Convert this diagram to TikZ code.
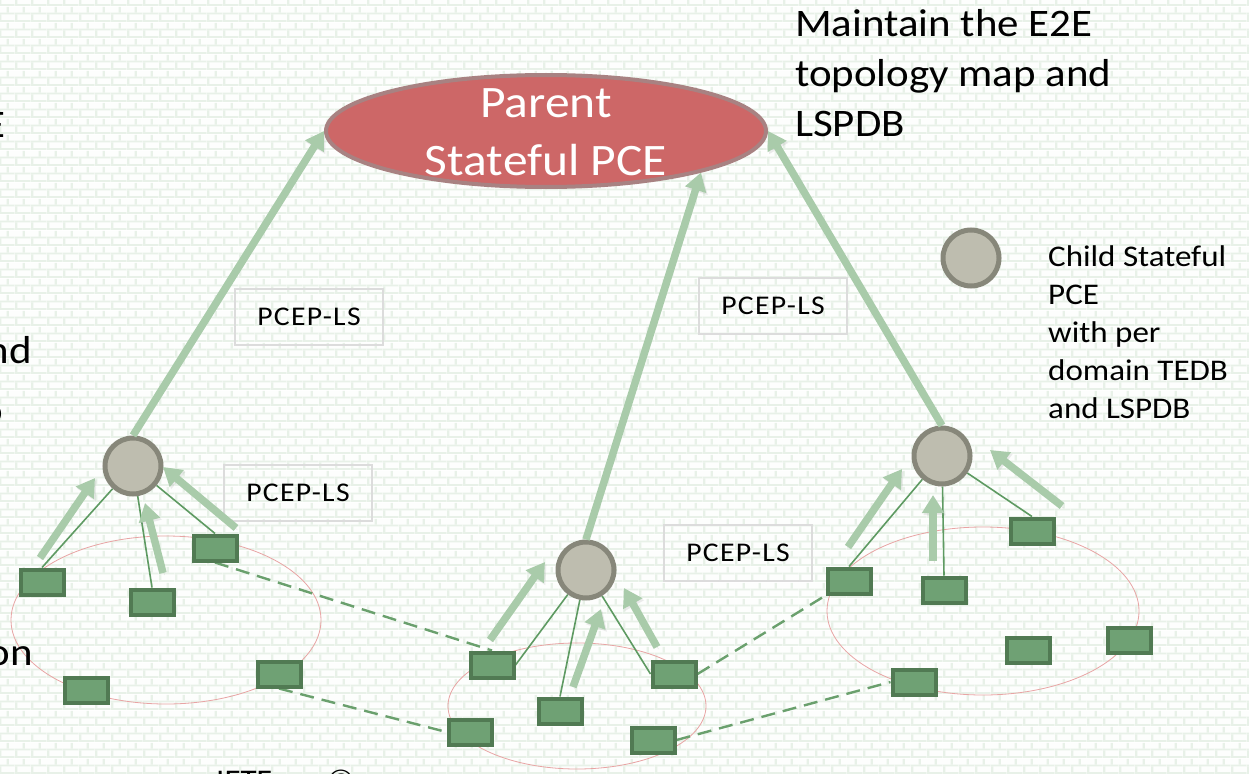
\documentclass[tikz,border=0pt]{standalone}
\usepackage{fontspec}
\setmainfont{Carlito}[FakeStretch=1.1]
\usetikzlibrary{arrows.meta,shapes.geometric,patterns.meta}
\definecolor{mortar}{HTML}{E8F1E8}
\definecolor{brick}{HTML}{FDFEFD}
\definecolor{pfill}{HTML}{CD6767}
\definecolor{pborder}{HTML}{A88282}
\definecolor{cfill}{HTML}{BEBDAF}
\definecolor{cborder}{HTML}{87877A}
\definecolor{rfill}{HTML}{6FA174}
\definecolor{rborder}{HTML}{517A53}
\definecolor{linkgreen}{HTML}{5E9A62}
\definecolor{dashgreen}{HTML}{6AA06D}
\definecolor{agreen}{HTML}{A9CBAA}
\definecolor{domainpink}{HTML}{E8A4A4}
\definecolor{boxgray}{HTML}{DCDCDC}
\tikzdeclarepattern{
  name=bgbricks,
  type=colored,
  bottom left={(0pt,0pt)},
  top right={(16pt,16pt)},
  tile size={(16pt,16pt)},
  code={
    \fill[brick] (0pt,0pt) rectangle (16pt,16pt);
    \fill[mortar] (0pt,0pt) rectangle (16pt,2pt);
    \fill[mortar] (0pt,8pt) rectangle (16pt,10pt);
    \fill[mortar] (0pt,2pt) rectangle (2.5pt,8pt);
    \fill[mortar] (8pt,10pt) rectangle (10.5pt,16pt);
  }
}
\pgfdeclarelayer{bg}
\pgfsetlayers{bg,main}
\begin{document}
\begin{tikzpicture}[x=1pt,y=-1pt,
  router/.style={draw=rborder, fill=rfill, line width=4pt, minimum width=43pt, minimum height=25pt, inner sep=0pt},
  child/.style={circle, draw=cborder, fill=cfill, line width=5pt, minimum size=56pt, inner sep=0pt},
  parentpce/.style={ellipse, draw=pborder, fill=pfill, line width=4pt, minimum width=440pt, minimum height=112pt, inner sep=0pt},
  domainring/.style={draw=domainpink, line width=0.8pt},
  link/.style={draw=linkgreen, line width=1.6pt},
  interlink/.style={draw=dashgreen, line width=2.4pt, dash pattern=on 14pt off 8pt},
  flow/.style={draw=agreen, fill=agreen, line width=7.5pt, -{Triangle[width=21pt,length=18pt]},
    preaction={draw=black!40, fill=black!40, opacity=0.18, transform canvas={shift={(1.5pt,-2pt)}}}},
  lbl/.style={draw=boxgray, line width=1.5pt, minimum width=148pt, minimum height=56pt, inner sep=0pt,
    font=\fontsize{27}{30}\selectfont\addfontfeature{LetterSpace=5}},
  bigtext/.style={align=left, inner sep=0pt, font=\fontsize{39}{50}\selectfont},
  frag/.style={anchor=base east, inner sep=0pt, font=\fontsize{39}{50}\selectfont}
]
\useasboundingbox (0,0) rectangle (1249,773);
\begin{scope}
\clip (0,0) rectangle (1249,773);

% nodes
\node[parentpce] (P) at (546,131) {};
\node[align=center, text=white, inner sep=0pt, font=\fontsize{45}{58}\selectfont] (Ptext) at (546,132) {Parent\\Stateful PCE};

\node[child] (cL) at (133,466) {};
\node[child] (cM) at (586,570) {};
\node[child] (cR) at (942,456) {};
\node[child] (cK) at (971,258) {};

\node[router] (A1) at (42,582) {};
\node[router] (A2) at (152,602) {};
\node[router] (A3) at (215,548) {};
\node[router] (A4) at (86,690) {};
\node[router] (A5) at (279,674) {};

\node[router] (B1) at (492,665) {};
\node[router] (B2) at (560,711) {};
\node[router] (B3) at (674,674) {};
\node[router] (B4) at (470,732) {};
\node[router] (B5) at (653,740) {};

\node[router] (C1) at (849,581) {};
\node[router] (C2) at (944,590) {};
\node[router] (C3) at (1032,531) {};
\node[router] (C4) at (1028,650) {};
\node[router] (C5) at (1129,640) {};
\node[router] (C6) at (914,682) {};

\node[lbl] (L1) at (309,317) {PCEP-LS};
\node[lbl] (L2) at (298,493) {PCEP-LS};
\node[lbl] (L3) at (773,306) {PCEP-LS};
\node[lbl] (L4) at (738,553) {PCEP-LS};

\node[bigtext, anchor=north west] (T1) at (795,9) {Maintain the E2E\\topology map and\\LSPDB};
\node[align=left, inner sep=0pt, anchor=north west, font=\fontsize{30}{38}\selectfont] (T2) at (1048,245) {Child Stateful\\PCE\\with per\\domain TEDB\\and LSPDB};

\node[frag] (F1) at (6,137) {E};
\node[frag] (F2) at (32,363) {nd};
\node[frag] (F3) at (3,423) {o};
\node[frag] (F4) at (33,665) {on};
\node[anchor=base west, inner sep=0pt, font=\fontsize{30}{36}\selectfont] (F5) at (216,790) {IETF};
\node[anchor=base west, inner sep=0pt, font=\fontsize{30}{36}\selectfont] (F6) at (327,790) {©};

% free ends of the small arrows
\coordinate (a1s) at (40,558);  \coordinate (a1e) at (95,478);
\coordinate (a2s) at (163,573); \coordinate (a2e) at (145,503);
\coordinate (a3s) at (236,528); \coordinate (a3e) at (163,467);
\coordinate (b1s) at (490,640); \coordinate (b1e) at (545,562);
\coordinate (b2s) at (573,687); \coordinate (b2e) at (601,609);
\coordinate (b3s) at (657,647); \coordinate (b3e) at (624,588);
\coordinate (c1s) at (848,547); \coordinate (c1e) at (902,469);
\coordinate (c2s) at (933,561); \coordinate (c2e) at (933,495);
\coordinate (c3s) at (1062,506); \coordinate (c3e) at (990,450);

\begin{pgfonlayer}{bg}
  \fill[pattern=bgbricks] (0,0) rectangle (1249,773);
  \draw[domainring] (166,620) ellipse [x radius=155, y radius=84];
  \draw[domainring] (577,706) ellipse [x radius=129, y radius=63];
  \draw[domainring] (983,611) ellipse [x radius=156, y radius=84];
  \draw[interlink] (A3.south) -- (B1.north);
  \draw[interlink] (A5.south) -- (B4.west);
  \draw[interlink] (B3.east) -- (C1.south west);
  \draw[interlink] (B5.east) -- (C6.west);
  \draw[link] (cL) -- (A1.north);
  \draw[link] (cL) -- (A2.north);
  \draw[link] (cL) -- (A3.north);
  \draw[link] (cM) -- (B1.east);
  \draw[link] (cM) -- (B2.north);
  \draw[link] (cM) -- (B3.west);
  \draw[link] (cR) -- (C1.north);
  \draw[link] (cR) -- (C2.north);
  \draw[link] (cR) -- (C3.north);
\end{pgfonlayer}

% arrows
\foreach \s/\e in {a1s/a1e,a2s/a2e,a3s/a3e,b1s/b1e,b2s/b2e,b3s/b3e,c1s/c1e,c2s/c2e,c3s/c3e}{
  \draw[flow] (\s) -- (\e);
}
\draw[flow] (cL.north) -- (P.west);
\draw[flow] (cM.north) -- (P.-15);
\draw[flow] (cR.north) -- (P.east);
\end{scope}
\end{tikzpicture}
\end{document}
